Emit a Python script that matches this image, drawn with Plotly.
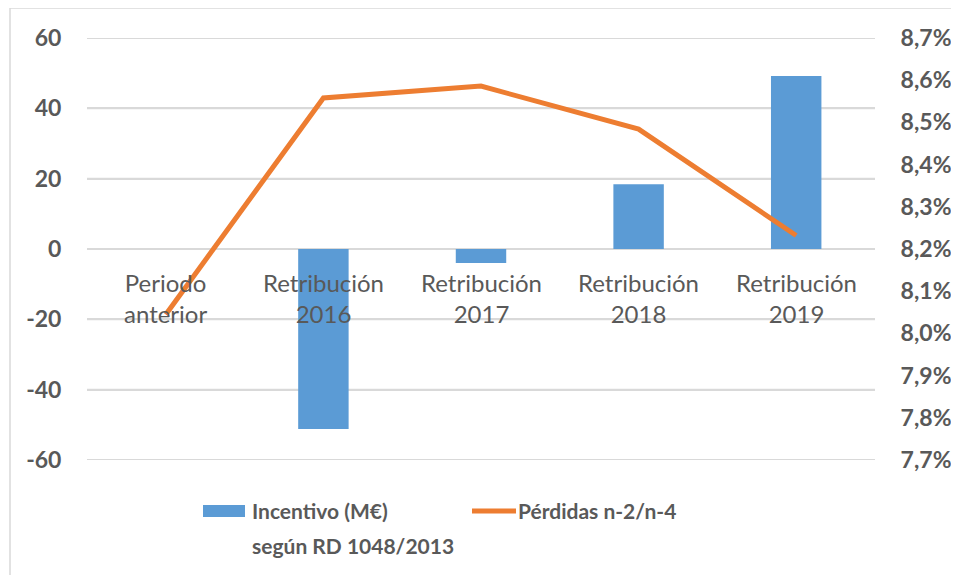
import plotly.graph_objects as go

categories = ["Periodo anterior", "Retribución 2016", "Retribución 2017",
              "Retribución 2018", "Retribución 2019"]
category_labels = ["Periodo<br>anterior", "Retribución<br>2016", "Retribución<br>2017",
                   "Retribución<br>2018", "Retribución<br>2019"]
incentivo = [0, -51.2, -4.0, 18.4, 49.2]
perdidas = [8.045, 8.558, 8.586, 8.484, 8.232]
left_ticks = [-60, -40, -20, 0, 20, 40, 60]
left_labels = ["-60", "-40", "-20", "0", "20", "40", "60"]
right_ticks = [7.7, 7.8, 7.9, 8.0, 8.1, 8.2, 8.3, 8.4, 8.5, 8.6, 8.7]
right_labels = ["7,7%", "7,8%", "7,9%", "8,0%", "8,1%", "8,2%", "8,3%", "8,4%", "8,5%", "8,6%", "8,7%"]

OFF = 8  # page body margin offset
W, H = 959 - 2 * OFF, 583 - 2 * OFF
L, R, T, B = 87, 875, 38, 460  # plot area in screen pixels
GRAY = "#595959"
GRID = "#d9d9d9"
BLUE = "#5b9bd5"
ORANGE = "#ed7d31"
FONT = "Lato"


def px(x):
    return (x - L) / (R - L)


def py(y):
    return (B - y) / (B - T)


fig = go.Figure()
fig.add_trace(go.Bar(x=categories, y=incentivo, marker=dict(color=BLUE, line=dict(width=0)),
                     name="Incentivo (M€) según RD 1048/2013", yaxis="y", showlegend=False))
fig.add_trace(go.Scatter(x=categories, y=perdidas, mode="lines",
                         line=dict(color=ORANGE, width=5), name="Pérdidas n-2/n-4",
                         yaxis="y2", showlegend=False))

shapes = [
    dict(type="rect", xref="paper", yref="paper", x0=px(10), x1=px(990), y0=py(620), y1=py(8),
         line=dict(color=GRID, width=1.5), fillcolor="rgba(0,0,0,0)"),
    dict(type="rect", xref="paper", yref="paper", x0=px(203), x1=px(245), y0=py(517), y1=py(505),
         line=dict(width=0), fillcolor=BLUE),
    dict(type="line", xref="paper", yref="paper", x0=px(472), x1=px(516), y0=py(511), y1=py(511),
         line=dict(color=ORANGE, width=5)),
]
# horizontal gridlines of the left axis, one per tick value
for v in left_ticks:
    shapes.append(dict(type="line", xref="paper", yref="y", x0=0, x1=1, y0=v, y1=v,
                       line=dict(color=GRID, width=2), layer="below"))

lf = dict(family=FONT, size=21, color=GRAY)
annotations = [
    dict(xref="paper", yref="paper", x=px(250), y=py(510), xanchor="left", yanchor="middle",
         text="<b>Incentivo (M€)</b>", showarrow=False, font=lf),
    dict(xref="paper", yref="paper", x=px(250), y=py(545), xanchor="left", yanchor="middle",
         text="<b>según RD 1048/2013</b>", showarrow=False, font=lf),
    dict(xref="paper", yref="paper", x=px(516), y=py(510), xanchor="left", yanchor="middle",
         text="<b>Pérdidas n-2/n-4</b>", showarrow=False, font=lf),
]
for cat, lab in zip(categories, category_labels):
    annotations.append(dict(xref="x", yref="y", x=cat, y=0, xanchor="center", yanchor="top",
                            yshift=-17, text=lab, showarrow=False,
                            font=dict(family=FONT, size=24, color=GRAY)))

tf = dict(family=FONT, size=23, color=GRAY, weight="bold")
fig.update_layout(
    width=W, height=H,
    margin=dict(l=L - OFF, r=W - (R - OFF), t=T - OFF, b=H - (B - OFF), pad=0, autoexpand=False),
    paper_bgcolor="white", plot_bgcolor="white",
    bargap=0.68,
    showlegend=False,
    xaxis=dict(type="category", categoryarray=categories, showticklabels=False, showline=False,
               ticks="", showgrid=False, zeroline=False),
    yaxis=dict(range=[-60, 60], tickmode="array", tickvals=left_ticks, ticktext=left_labels,
               showgrid=True, gridcolor=GRID, gridwidth=2,
               zeroline=False, showline=False, ticks="outside", ticklen=20, tickcolor="rgba(0,0,0,0)",
               tickfont=tf),
    yaxis2=dict(range=[7.7, 8.7], tickmode="array", tickvals=right_ticks, ticktext=right_labels,
                overlaying="y", side="right", showgrid=False, zeroline=False, showline=False,
                ticks="outside", ticklen=20, tickcolor="rgba(0,0,0,0)", tickfont=tf),
    shapes=shapes,
    annotations=annotations,
)

fig.write_html("out.html")
